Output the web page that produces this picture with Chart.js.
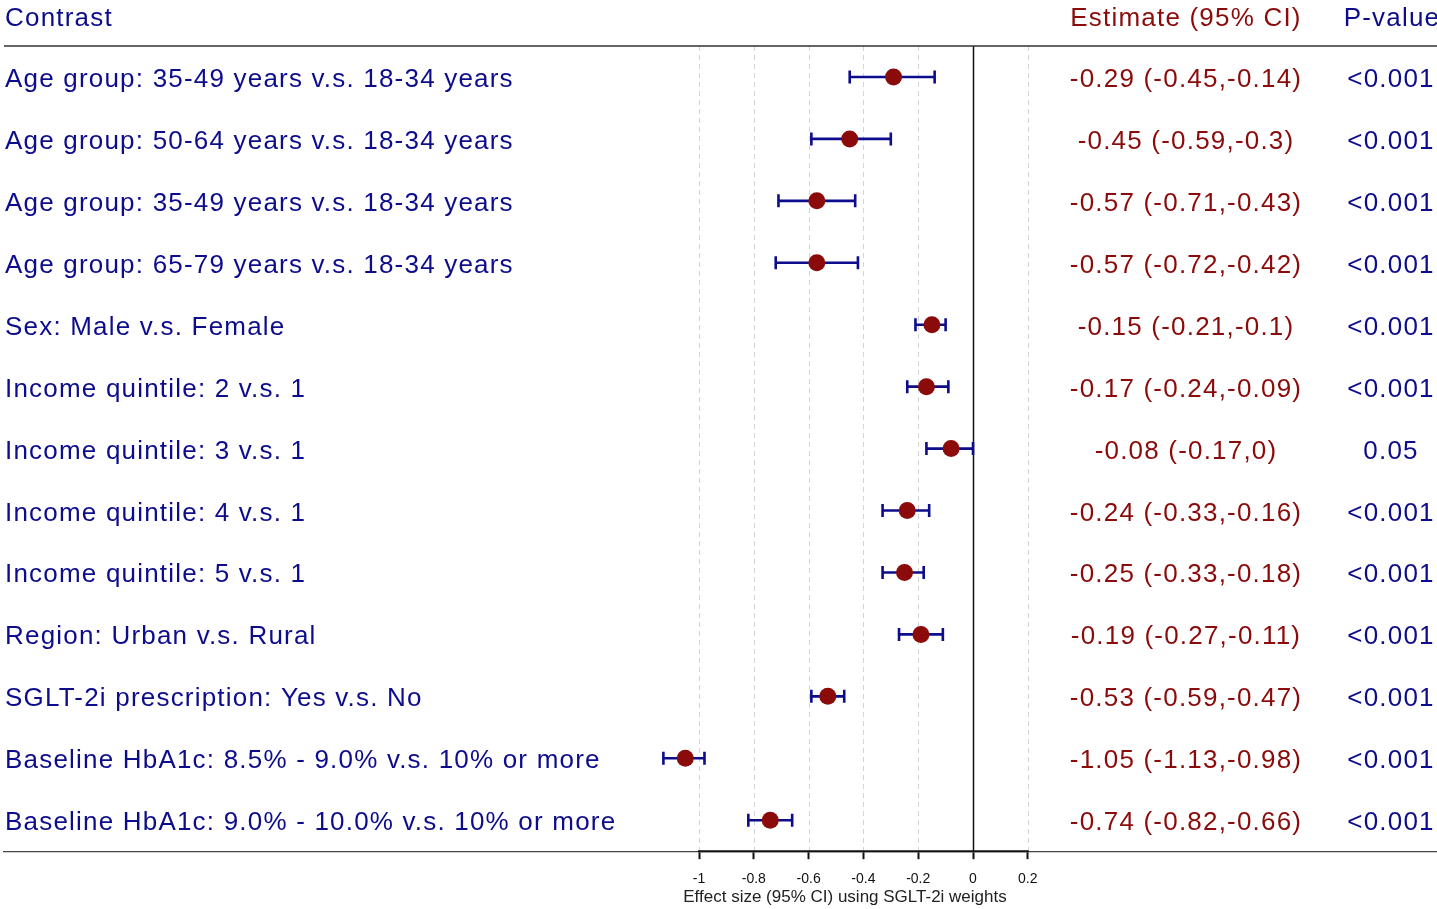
<!DOCTYPE html>
<html><head><meta charset="utf-8">
<script src="https://cdn.jsdelivr.net/npm/chart.js@4/dist/chart.umd.min.js"></script>
<style>html,body{margin:0;padding:0;background:#fff;overflow:hidden}#wrap{width:1437px;height:909px;position:relative}</style>
</head><body><div id="wrap"><canvas id="c" width="1437" height="909"></canvas></div>
<script>
const contrasts = [
  "Age group: 35-49 years v.s. 18-34 years",
  "Age group: 50-64 years v.s. 18-34 years",
  "Age group: 35-49 years v.s. 18-34 years",
  "Age group: 65-79 years v.s. 18-34 years",
  "Sex: Male v.s. Female",
  "Income quintile: 2 v.s. 1",
  "Income quintile: 3 v.s. 1",
  "Income quintile: 4 v.s. 1",
  "Income quintile: 5 v.s. 1",
  "Region: Urban v.s. Rural",
  "SGLT-2i prescription: Yes v.s. No",
  "Baseline HbA1c: 8.5% - 9.0% v.s. 10% or more",
  "Baseline HbA1c: 9.0% - 10.0% v.s. 10% or more"
];
const estimates = [-0.29, -0.45, -0.57, -0.57, -0.15, -0.17, -0.08, -0.24, -0.25, -0.19, -0.53, -1.05, -0.74];
const lower     = [-0.45, -0.59, -0.71, -0.72, -0.21, -0.24, -0.17, -0.33, -0.33, -0.27, -0.59, -1.13, -0.82];
const upper     = [-0.14, -0.3, -0.43, -0.42, -0.1, -0.09, 0, -0.16, -0.18, -0.11, -0.47, -0.98, -0.66];
const pValues   = ["<0.001","<0.001","<0.001","<0.001","<0.001","<0.001","0.05","<0.001","<0.001","<0.001","<0.001","<0.001","<0.001"];
const xTicks    = [-1, -0.8, -0.6, -0.4, -0.2, 0, 0.2];
const xTitle    = "Effect size (95% CI) using SGLT-2i weights";

const NAVY = "#0c0c8c";
const RED = "#8b0a0a";
const FONT = "'Liberation Sans', Arial, sans-serif";

const forestPlugin = {
  id: 'forest',
  beforeDatasetsDraw(chart) {
    const ctx = chart.ctx, xs = chart.scales.x, ys = chart.scales.y, a = chart.chartArea;
    ctx.save();
    ctx.lineWidth = 1;
    ctx.strokeStyle = "#d4d4d4";
    ctx.setLineDash([5, 4]);
    xTicks.forEach(v => {
      if (v === 0) return;
      const px = Math.round(xs.getPixelForValue(v)) + 0.5;
      ctx.beginPath(); ctx.moveTo(px, a.top); ctx.lineTo(px, a.bottom); ctx.stroke();
    });
    ctx.setLineDash([]);
    const z = Math.round(xs.getPixelForValue(0)) + 0.5;
    ctx.strokeStyle = "#111"; ctx.lineWidth = 1.5;
    ctx.beginPath(); ctx.moveTo(z, a.top); ctx.lineTo(z, a.bottom); ctx.stroke();
    ctx.strokeStyle = "#333"; ctx.lineWidth = 1.3;
    ctx.beginPath(); ctx.moveTo(a.left, a.top); ctx.lineTo(a.right, a.top); ctx.stroke();
    ctx.strokeStyle = "#111"; ctx.lineWidth = 2;
    ctx.beginPath();
    ctx.moveTo(xs.getPixelForValue(xTicks[0]) - 1, a.bottom);
    ctx.lineTo(xs.getPixelForValue(xTicks[xTicks.length - 1]) + 1, a.bottom);
    ctx.stroke();
    ctx.strokeStyle = NAVY; ctx.lineWidth = 2.6;
    estimates.forEach((e, i) => {
      const y = ys.getPixelForValue(i);
      const x1 = xs.getPixelForValue(lower[i]), x2 = xs.getPixelForValue(upper[i]);
      ctx.beginPath();
      ctx.moveTo(x1, y); ctx.lineTo(x2, y);
      ctx.moveTo(x1, y - 6.5); ctx.lineTo(x1, y + 6.5);
      ctx.moveTo(x2, y - 6.5); ctx.lineTo(x2, y + 6.5);
      ctx.stroke();
    });
    ctx.restore();
  },
  afterDraw(chart) {
    const ctx = chart.ctx, ys = chart.scales.y;
    ctx.save();
    ctx.font = "17px " + FONT;
    ctx.fillStyle = "#222"; ctx.textAlign = "center"; ctx.textBaseline = "middle";
    ctx.fillText(xTitle, 845, 897);
    ctx.font = "26px " + FONT;
    ctx.letterSpacing = "1.2px";
    ctx.textBaseline = "alphabetic";
    ctx.fillStyle = NAVY; ctx.textAlign = "left";
    ctx.fillText("Contrast", 5, 26);
    ctx.fillStyle = RED; ctx.textAlign = "center";
    ctx.fillText("Estimate (95% CI)", 1186, 26);
    ctx.fillStyle = NAVY;
    ctx.fillText("P-value", 1392, 26);
    contrasts.forEach((c, i) => {
      const y = ys.getPixelForValue(i) + 10;
      ctx.textAlign = "left"; ctx.fillStyle = NAVY;
      ctx.fillText(c, 5, y);
      ctx.textAlign = "center"; ctx.fillStyle = RED;
      ctx.fillText(`${estimates[i]} (${lower[i]},${upper[i]})`, 1186, y);
      ctx.fillStyle = NAVY;
      ctx.fillText(pValues[i], 1391, y);
    });
    ctx.restore();
  }
};

new Chart(document.getElementById('c'), {
  type: 'scatter',
  data: {
    datasets: [{
      data: estimates.map((e, i) => ({ x: e, y: i })),
      backgroundColor: RED,
      borderColor: RED,
      pointStyle: 'circle',
      pointRadius: 8.5,
      pointHoverRadius: 8.5,
      borderWidth: 0
    }]
  },
  options: {
    responsive: false,
    devicePixelRatio: 1,
    animation: false,
    layout: { autoPadding: false, padding: { top: 46, left: 4, right: 0, bottom: 9 } },
    plugins: { legend: { display: false }, tooltip: { enabled: false } },
    scales: {
      x: {
        type: 'linear',
        min: -3.5365,
        max: 1.6934,
        afterBuildTicks: (s) => { s.ticks = xTicks.map(v => ({ value: v })); },
        afterFit: (s) => { s.paddingLeft = 0; s.paddingRight = 0; },
        grid: { drawOnChartArea: false, drawTicks: true, tickLength: 8, tickColor: "#111", tickWidth: 2 },
        border: { display: true, color: "#444", width: 1.3 },
        ticks: {
          autoSkip: false, maxRotation: 0, padding: 12,
          color: "#111", font: { family: FONT, size: 14 },
          callback: (v) => String(v)
        },
        title: { display: false }
      },
      y: {
        type: 'linear', reverse: true, min: -0.5, max: 12.5, display: false
      }
    }
  },
  plugins: [forestPlugin]
});
</script></body></html>
